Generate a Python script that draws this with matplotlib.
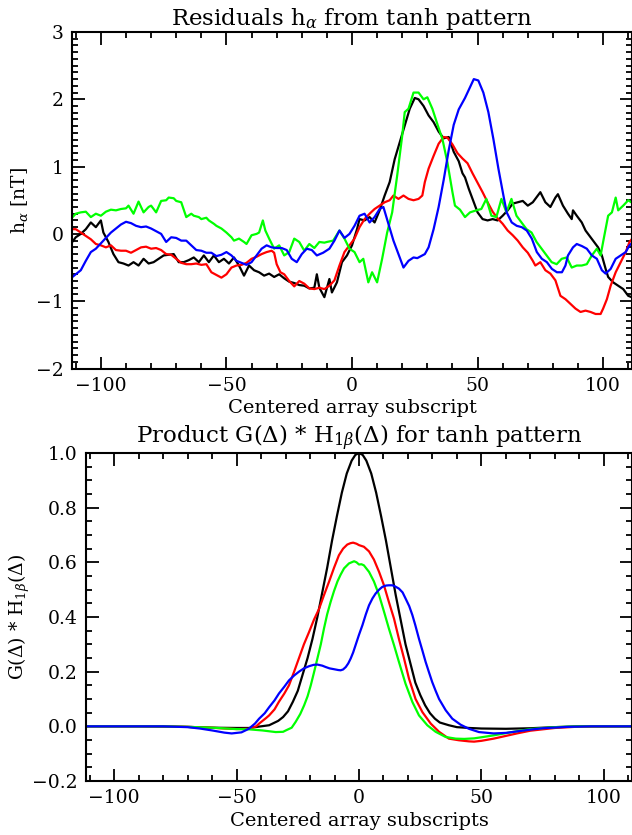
import numpy as np
from matplotlib import pyplot as plt
from matplotlib.ticker import MultipleLocator

# residuals h_alpha (top panel)
black_x = [-112, -110, -108, -106, -104, -102, -100, -99, -97, -95, -93, -91, -89, -87, -85, -83, -81, -79,
           -77, -75, -73, -71, -69, -67, -65, -63, -61, -59, -57, -55, -53, -51, -49, -47, -45, -43, -41,
           -39, -37, -35, -33, -31, -29, -27, -25, -23, -21, -19, -17, -15, -14, -13, -12, -11, -9, -8,
           -6, -4, -2, 0, 2, 3, 5, 7, 9, 11, 13, 15, 17, 19, 21, 23, 25, 26.5, 28.5, 30.5, 32.5, 34.5,
           36.5, 38.5, 40.5, 42.5, 44, 45, 46.5, 48.5, 50, 52, 54, 56, 58, 60, 62, 64, 66, 68, 70, 72, 74,
           75, 77, 79, 81, 82, 84, 86, 87.5, 88, 89.5, 91.5, 93, 94, 96, 98, 99.5, 101, 102, 104, 106,
           108, 110, 112]
black_y = [-0.15, -0.05, 0.0, 0.07, 0.17, 0.1, 0.2, 0.02, -0.12, -0.3, -0.42, -0.44, -0.47, -0.42, -0.47,
           -0.37, -0.44, -0.42, -0.37, -0.32, -0.31, -0.3, -0.42, -0.42, -0.39, -0.35, -0.42, -0.32, -0.42,
           -0.32, -0.42, -0.37, -0.44, -0.35, -0.47, -0.62, -0.47, -0.54, -0.57, -0.62, -0.59, -0.64, -0.6,
           -0.66, -0.71, -0.73, -0.76, -0.77, -0.81, -0.8, -0.6, -0.8, -0.87, -0.94, -0.67, -0.87, -0.72,
           -0.42, -0.32, -0.17, 0.07, 0.22, 0.2, 0.25, 0.17, 0.35, 0.57, 0.77, 1.11, 1.36, 1.61, 1.86, 2.02,
           2.0, 1.9, 1.76, 1.66, 1.52, 1.42, 1.44, 1.22, 1.08, 0.9, 0.84, 0.67, 0.47, 0.32, 0.22, 0.2, 0.22,
           0.2, 0.27, 0.35, 0.45, 0.47, 0.49, 0.42, 0.47, 0.57, 0.62, 0.47, 0.4, 0.54, 0.59, 0.42, 0.3,
           0.22, 0.35, 0.27, 0.17, 0.05, 0.0, -0.1, -0.2, -0.32, -0.52, -0.64, -0.72, -0.77, -0.82, -0.92,
           -0.95]

red_x = [-112, -110, -108, -106, -104, -102, -100, -98, -96, -94, -92, -90, -88, -86, -84, -82, -80, -78,
         -76, -74, -72, -70, -68, -66, -64, -62, -60, -58, -56, -54, -52, -50, -48, -46, -44, -42, -40,
         -38, -36, -34, -32, -31, -30, -28.5, -27, -25, -23, -21, -19, -17, -15, -13, -11, -9, -7, -5,
         -3, -1, 1, 3, 5, 7, 9, 11, 13, 15, 16.5, 18.5, 20.5, 22.5, 24.5, 26.5, 28, 29, 30.5, 32.5,
         34.5, 36.5, 38, 40, 42, 44, 46, 48, 50, 52, 54, 56, 58, 60, 62, 64, 66, 68, 70, 72, 73, 75, 77,
         79, 81, 83, 85, 87, 89, 91, 93, 95, 97, 99, 100, 101.5, 103, 105, 107, 109, 110.5, 112]
red_y = [0.07, 0.07, 0.02, -0.03, -0.08, -0.15, -0.17, -0.2, -0.17, -0.24, -0.25, -0.25, -0.28, -0.24,
         -0.2, -0.19, -0.22, -0.21, -0.24, -0.3, -0.31, -0.37, -0.43, -0.45, -0.45, -0.44, -0.46, -0.45,
         -0.57, -0.61, -0.65, -0.6, -0.5, -0.47, -0.46, -0.43, -0.37, -0.34, -0.3, -0.27, -0.25, -0.28,
         -0.45, -0.57, -0.6, -0.7, -0.78, -0.7, -0.74, -0.81, -0.82, -0.8, -0.82, -0.77, -0.69, -0.47,
         -0.27, -0.17, -0.07, 0.1, 0.22, 0.3, 0.37, 0.42, 0.47, 0.5, 0.57, 0.52, 0.57, 0.52, 0.5, 0.52,
         0.57, 0.77, 0.97, 1.16, 1.34, 1.44, 1.43, 1.33, 1.2, 1.12, 1.05, 0.9, 0.76, 0.62, 0.47, 0.33,
         0.23, 0.15, 0.05, -0.02, -0.1, -0.2, -0.28, -0.4, -0.47, -0.42, -0.54, -0.59, -0.69, -0.92,
         -0.97, -1.04, -1.11, -1.16, -1.14, -1.16, -1.19, -1.19, -1.11, -0.97, -0.77, -0.57, -0.42, -0.27,
         -0.12, -0.05]

green_x = [-112, -110, -108, -106, -104, -102, -100, -98, -96, -94, -92, -90, -89, -87, -85, -83, -81,
           -80, -78, -76, -74, -73, -71, -70, -68, -66, -64, -63, -61, -60, -58, -57, -55, -54, -52, -50,
           -48, -47, -45, -43, -42, -40, -38, -37, -35.5, -34.5, -33, -31, -29, -27, -25, -23, -21, -19,
           -17, -15, -13, -11, -10, -7.5, -5, -3, -1, 1, 3, 4.5, 6.5, 8, 10, 12, 14, 16, 18, 20, 21,
           22.5, 24.5, 26.5, 28.5, 30, 32, 34, 36, 38, 40, 41, 43, 45, 47, 49.5, 51.5, 53.5, 55.5, 57.5,
           59.5, 61.5, 63.5, 65.5, 67.5, 69.5, 71.5, 73.5, 75.5, 77.5, 79.5, 81.5, 83.5, 85.5, 87.5, 89.5,
           91.5, 93.5, 95.5, 97.5, 99, 100, 102, 103.5, 105, 106, 108, 110, 112]
green_y = [0.22, 0.3, 0.32, 0.33, 0.25, 0.3, 0.27, 0.33, 0.36, 0.35, 0.37, 0.38, 0.42, 0.3, 0.48, 0.32,
           0.4, 0.42, 0.32, 0.49, 0.5, 0.54, 0.53, 0.49, 0.47, 0.25, 0.3, 0.27, 0.25, 0.22, 0.24, 0.2, 0.15,
           0.12, 0.08, 0.02, -0.05, -0.1, -0.07, -0.12, -0.15, -0.02, 0.0, 0.02, 0.2, 0.05, -0.07, -0.22,
           -0.17, -0.32, -0.27, -0.07, -0.12, -0.25, -0.15, -0.21, -0.12, -0.13, -0.12, -0.1, 0.05, -0.07,
           -0.22, -0.27, -0.42, -0.37, -0.72, -0.57, -0.72, -0.37, 0.02, 0.32, 0.87, 1.46, 1.81, 1.86, 2.1,
           2.1, 2.0, 2.03, 1.86, 1.63, 1.41, 1.06, 0.62, 0.42, 0.36, 0.25, 0.32, 0.35, 0.37, 0.52, 0.27,
           0.25, 0.52, 0.32, 0.52, 0.27, 0.17, 0.07, 0.02, -0.12, -0.22, -0.32, -0.42, -0.45, -0.37, -0.35,
           -0.5, -0.47, -0.47, -0.45, -0.32, -0.22, -0.32, -0.12, 0.27, 0.32, 0.54, 0.35, 0.42, 0.5, 0.45]

blue_x = [-112, -110, -108, -106, -104, -102, -100, -98, -96, -94, -92, -90, -88, -86, -84, -82, -80, -78,
          -76, -74, -72, -70, -68, -66, -64, -62, -60, -58, -56, -54, -52, -50, -48, -46, -44, -42, -40,
          -38, -36, -34, -32, -30, -28, -26, -24, -22, -20, -18, -16, -14, -11.5, -9, -7, -5, -3, -1, 1,
          3, 5, 7, 9, 11, 12.5, 14.5, 16.5, 18.5, 20.5, 22.5, 24.5, 26, 27, 29, 30.5, 32.5, 34.5, 36.5,
          38.5, 40.5, 42.5, 45, 47, 48.5, 50.3, 52.3, 54.3, 56.3, 58.3, 60.3, 61.6, 63.6, 65.6, 67.6,
          69.6, 71.6, 73.6, 75.6, 77.6, 79.6, 81.6, 83.6, 85, 86, 88, 89.5, 91.5, 93.5, 95.5, 97.5, 99.5,
          101, 103, 105, 107, 109, 110.5, 112]
blue_y = [-0.66, -0.6, -0.54, -0.4, -0.27, -0.22, -0.14, -0.06, 0.02, 0.08, 0.14, 0.18, 0.16, 0.12, 0.1,
          0.11, 0.08, 0.04, 0.0, -0.12, -0.05, -0.06, -0.1, -0.1, -0.17, -0.24, -0.25, -0.28, -0.28,
          -0.33, -0.31, -0.27, -0.32, -0.4, -0.43, -0.46, -0.42, -0.32, -0.22, -0.17, -0.2, -0.21, -0.21,
          -0.24, -0.37, -0.42, -0.3, -0.22, -0.24, -0.32, -0.28, -0.22, -0.1, 0.05, -0.06, 0.0, 0.12,
          0.27, 0.3, 0.17, 0.25, 0.37, 0.4, 0.15, -0.1, -0.3, -0.5, -0.4, -0.35, -0.36, -0.34, -0.3, -0.2,
          0.07, 0.4, 0.8, 1.24, 1.62, 1.85, 2.02, 2.18, 2.3, 2.28, 2.1, 1.81, 1.41, 0.97, 0.57, 0.32, 0.17,
          0.12, 0.1, 0.05, -0.07, -0.27, -0.37, -0.42, -0.52, -0.57, -0.57, -0.47, -0.32, -0.2, -0.15,
          -0.18, -0.22, -0.32, -0.37, -0.54, -0.59, -0.52, -0.37, -0.32, -0.27, -0.17, -0.12]

# product G(delta) * H_1beta(delta) (bottom panel)
gblack_x = [-112, -90, -70, -60, -50, -45, -40, -36.7, -33, -31, -29, -27, -25, -23, -21, -19, -17, -15,
            -13, -11, -9, -7, -5, -3, -1.5, 0, 1.5, 3, 5, 7, 9, 11, 13, 15, 17, 19, 21, 23, 25, 27, 29,
            31, 33, 36.7, 40, 45, 50, 60, 70, 80, 90, 112]
gblack_y = [0, 0, -0.002, -0.005, -0.006, -0.006, 0.0, 0.004, 0.02, 0.034, 0.055, 0.09, 0.13, 0.19, 0.25,
            0.32, 0.4, 0.49, 0.58, 0.68, 0.77, 0.855, 0.925, 0.972, 0.993, 1.0, 0.993, 0.972, 0.925, 0.855,
            0.77, 0.68, 0.58, 0.48, 0.39, 0.3, 0.23, 0.16, 0.115, 0.077, 0.048, 0.028, 0.014, 0.004,
            -0.003, -0.006, -0.008, -0.009, -0.007, -0.003, 0, 0]

gred_x = [-112, -80, -70, -60, -55, -50, -45, -42, -40.8, -38, -36.7, -34.5, -32.7, -30.5, -28.6, -26.5,
          -24.5, -22.5, -20.4, -18.4, -16.3, -14.3, -12.2, -10.2, -8.2, -6.5, -4.8, -3.5, -2.4, -1, 0, 2,
          4.1, 6.1, 8.2, 10.2, 12.2, 14.3, 16.3, 18.4, 20.4, 23.1, 25.9, 29.3, 32.7, 36.7, 40.8, 44.9,
          47, 50, 55, 60, 65, 70, 80, 90, 112]
gred_y = [0, 0, -0.002, -0.005, -0.008, -0.01, -0.009, 0.0, 0.01, 0.03, 0.04, 0.062, 0.09, 0.12, 0.15,
          0.2, 0.25, 0.3, 0.345, 0.39, 0.43, 0.48, 0.53, 0.58, 0.626, 0.65, 0.665, 0.67, 0.672, 0.668,
          0.663, 0.657, 0.64, 0.61, 0.565, 0.516, 0.455, 0.394, 0.32, 0.248, 0.175, 0.1, 0.052, 0.01,
          -0.02, -0.045, -0.051, -0.055, -0.056, -0.053, -0.045, -0.035, -0.025, -0.016, -0.006, -0.001, 0]

ggreen_x = [-112, -80, -70, -60, -50, -44.9, -39.5, -34, -31, -29.9, -27.5, -25.9, -24, -22.4, -21, -19.7,
            -18.3, -17, -15.6, -14.3, -13, -11.6, -10.2, -8.8, -7.5, -6.1, -4.1, -2, -1, 0, 1, 2, 4.1,
            6.1, 8.2, 10.2, 12.2, 14.3, 16.3, 19, 21.8, 24.5, 27.9, 31.3, 35.4, 39.5, 43, 47, 50, 55, 60,
            65, 70, 80, 90, 112]
ggreen_y = [0, 0, -0.002, -0.005, -0.01, -0.011, -0.015, -0.021, -0.02, -0.015, -0.005, 0.016, 0.045,
            0.077, 0.11, 0.15, 0.2, 0.248, 0.3, 0.358, 0.41, 0.455, 0.495, 0.53, 0.555, 0.578, 0.596,
            0.604, 0.6, 0.592, 0.593, 0.589, 0.565, 0.53, 0.48, 0.42, 0.358, 0.297, 0.236, 0.156, 0.089,
            0.04, 0.004, -0.02, -0.039, -0.045, -0.046, -0.044, -0.04, -0.033, -0.025, -0.017, -0.01,
            -0.003, 0, 0]

gblue_x = [-112, -80, -70, -65, -60, -55, -52, -48, -45, -42.5, -40.8, -38.5, -36.7, -34.5, -32.7, -30.5,
           -28.6, -26.5, -24.5, -22.5, -20.4, -18.5, -17, -15, -13.6, -12, -10.2, -8.5, -7.5, -6.5, -5.4,
           -4.4, -3.4, -2.4, -1.4, 0, 1.4, 2.8, 4.1, 5.5, 6.8, 8.2, 9.5, 11, 12.2, 13.5, 14.3, 16.3,
           17.8, 19, 20.5, 21.8, 23, 24.5, 25.9, 27.2, 28.5, 29.9, 31.3, 32.7, 35.4, 38.1, 41.5, 44.9,
           49, 55, 60, 65, 70, 75, 85, 95, 112]
gblue_y = [0, 0, -0.003, -0.008, -0.015, -0.023, -0.026, -0.022, -0.009, 0.01, 0.028, 0.048, 0.07, 0.095,
           0.12, 0.145, 0.168, 0.186, 0.2, 0.212, 0.22, 0.225, 0.226, 0.222, 0.217, 0.212, 0.209, 0.206,
           0.205, 0.208, 0.217, 0.23, 0.248, 0.27, 0.297, 0.335, 0.37, 0.41, 0.443, 0.468, 0.486, 0.5,
           0.51, 0.515, 0.516, 0.516, 0.514, 0.504, 0.49, 0.468, 0.44, 0.407, 0.37, 0.32, 0.277, 0.236,
           0.2, 0.162, 0.13, 0.1, 0.059, 0.028, 0.006, -0.009, -0.021, -0.026, -0.024, -0.018, -0.012,
           -0.007, -0.002, 0, 0]

plt.rcParams['font.family'] = ['DejaVu Serif']
plt.rcParams['mathtext.fontset'] = 'dejavuserif'

fig = plt.figure(figsize=(6.32, 8.35), dpi=100)

ax1 = fig.add_axes([72 / 632, 1 - 368.5 / 835, 560 / 632, 336.5 / 835])
ax2 = fig.add_axes([86 / 632, 1 - 781 / 835, 546 / 632, 328 / 835])

lw = 1.6
for x, y, c in [(black_x, black_y, 'black'), (red_x, red_y, 'red'),
                (green_x, green_y, '#00ff00'), (blue_x, blue_y, 'blue')]:
    ax1.plot(x, y, color=c, linewidth=lw)

for x, y, c in [(gblack_x, gblack_y, 'black'), (gred_x, gred_y, 'red'),
                (ggreen_x, ggreen_y, '#00ff00'), (gblue_x, gblue_y, 'blue')]:
    ax2.plot(x, y, color=c, linewidth=lw)

ax1.set_xlim(-111.5, 111.5)
ax1.set_ylim(-2, 3)
ax2.set_xlim(-111.5, 111.5)
ax2.set_ylim(-0.2, 1.0)

ax1.xaxis.set_major_locator(MultipleLocator(50))
ax1.xaxis.set_minor_locator(MultipleLocator(10))
ax1.yaxis.set_major_locator(MultipleLocator(1))
ax1.yaxis.set_minor_locator(MultipleLocator(0.1))
ax2.xaxis.set_major_locator(MultipleLocator(50))
ax2.xaxis.set_minor_locator(MultipleLocator(10))
ax2.yaxis.set_major_locator(MultipleLocator(0.2))
ax2.yaxis.set_minor_locator(MultipleLocator(0.05))
ax2.yaxis.set_major_formatter(lambda v, p: f'{v:.1f}'.replace('-', '\u2212'))

for ax in (ax1, ax2):
    ax.tick_params(which='both', direction='in', top=True, right=True, width=1.3,
                   labelsize=13.5, pad=6)
    ax.tick_params(which='major', length=9)
    ax.tick_params(which='minor', length=4.5)
    for s in ax.spines.values():
        s.set_linewidth(1.5)

ax1.set_title(r'Residuals h$_\alpha$ from tanh pattern', fontsize=16.5, pad=5)
ax1.set_xlabel('Centered array subscript', fontsize=14, labelpad=3)
ax1.set_ylabel(r'h$_\alpha$ [nT]', fontsize=13.5, va='center')
ax1.yaxis.set_label_coords((20 - 72) / 560, 0.5)

ax2.set_title(r'Product G($\Delta$) * H$_{1\beta}$($\Delta$) for tanh pattern', fontsize=16.5, pad=3)
ax2.set_xlabel('Centered array subscripts', fontsize=14, labelpad=3)
ax2.set_ylabel(r'G($\Delta$) * H$_{1\beta}$($\Delta$)', fontsize=13.5, va='center')
ax2.yaxis.set_label_coords((19 - 86) / 546, 0.5)

fig.savefig('out.png', dpi=100)
